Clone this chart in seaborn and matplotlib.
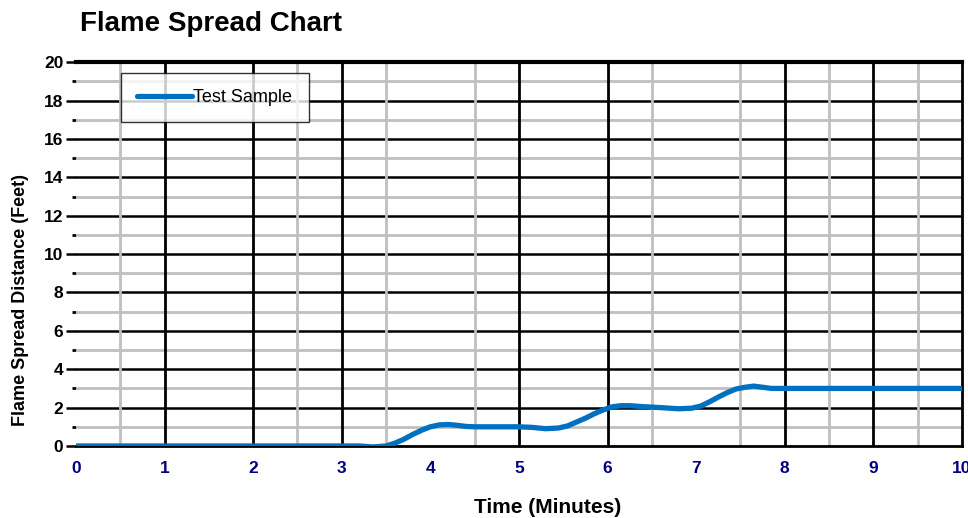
"""
Flame spread chart: distance of flame front over time for one test sample.
"""

import matplotlib
matplotlib.use("Agg")
import matplotlib.pyplot as plt
import seaborn as sns
import pandas as pd

# =========================
# Datos
# =========================

tiempo = [0, 0.5, 1, 1.5, 2, 2.5, 3, 3.2, 3.35, 3.5, 3.6, 3.7, 3.8, 3.9, 4.0,
          4.1, 4.2, 4.3, 4.4, 4.5, 4.75, 5.0, 5.15, 5.3, 5.45, 5.55, 5.65,
          5.75, 5.85, 5.95, 6.05, 6.15, 6.25, 6.4, 6.6, 6.8, 6.95, 7.05,
          7.15, 7.25, 7.35, 7.45, 7.55, 7.65, 7.75, 7.85, 8.0, 8.5, 9.0,
          9.5, 10.0]
distancia = [0, 0, 0, 0, 0, 0, 0, 0, -0.05, 0, 0.15, 0.35, 0.6, 0.82, 1.0,
             1.1, 1.12, 1.08, 1.02, 1.0, 1.0, 1.0, 0.97, 0.9, 0.94, 1.05, 1.25,
             1.45, 1.68, 1.88, 2.04, 2.1, 2.1, 2.05, 2.0, 1.94, 1.97, 2.08,
             2.3, 2.55, 2.78, 2.97, 3.06, 3.12, 3.06, 3.0, 3.0, 3.0, 3.0,
             3.0, 3.0]
serie = "Test Sample"

# líneas de la cuadrícula vertical tal como aparecen en la imagen
v_negras = [1, 2, 3, 5, 6, 8, 9]
v_grises = [0.5, 2.5, 3.5, 4.5, 6.5, 7.5, 8.5, 9.5]

df = pd.DataFrame({"tiempo": tiempo, "distancia": distancia, "serie": serie})

# =========================
# Figura
# =========================

sns.set_style("white")
plt.rcParams["font.family"] = ["Liberation Sans", "DejaVu Sans"]
plt.rcParams["text.color"] = "black"

fig = plt.figure(figsize=(9.68, 5.18), dpi=100)
ax = fig.add_axes([0.0785, 0.139, 0.9153, 0.741])

gris = "#BFBFBF"
for y in range(1, 20):
    if y % 2 == 0:
        ax.axhline(y, color="black", lw=1.8, zorder=1)
    else:
        ax.axhline(y, color=gris, lw=2.0, zorder=1)
for x in v_grises:
    ax.axvline(x, color=gris, lw=2.0, zorder=1)
for x in v_negras:
    ax.axvline(x, color="black", lw=2.0, zorder=1.5)

sns.lineplot(data=df, x="tiempo", y="distancia", hue="serie",
             palette=["#0070C0"], linewidth=3.8, ax=ax, zorder=3,
             estimator=None, sort=False)

ax.set_xlim(0, 10)
ax.set_ylim(0, 20)
ax.set_xticks(range(0, 11))
ax.set_yticks(range(0, 21, 2))
ax.set_yticks(range(1, 20, 2), minor=True)

ax.tick_params(axis="x", length=0, pad=11, labelsize=12.5, labelcolor="#000080")
ax.tick_params(axis="y", which="major", length=7, width=1.8, color="black",
               left=True, labelsize=12.5, pad=2, labelcolor="black")
ax.tick_params(axis="y", which="minor", length=3, width=2, color="black",
               left=True)
for lab in ax.get_xticklabels() + ax.get_yticklabels():
    lab.set_fontweight("bold")

ax.spines["left"].set_visible(False)
ax.spines["top"].set_linewidth(3)
ax.spines["right"].set_linewidth(2)
ax.spines["bottom"].set_linewidth(2)
for s in ["top", "right", "bottom"]:
    ax.spines[s].set_color("black")

ax.set_xlabel("")
ax.set_ylabel("")

leg = ax.legend(loc="upper left", bbox_to_anchor=(0.051, 0.972),
                borderaxespad=0, frameon=True, fancybox=False,
                fontsize=13, handlelength=3.0, handletextpad=0.1,
                borderpad=0.9)
leg.get_frame().set_edgecolor("black")
leg.get_frame().set_linewidth(1)
leg.set_zorder(5)

fig.text(0.083, 0.953, "Flame Spread Chart", fontsize=20, fontweight="bold",
         ha="left", va="center", color="black")
fig.text(0.566, 0.002, "Time (Minutes)", fontsize=15, fontweight="bold",
         ha="center", va="bottom", color="black")
fig.text(0.021, 0.42, "Flame Spread Distance (Feet)", fontsize=13,
         fontweight="bold", rotation=90, ha="center", va="center",
         color="black")

fig.savefig("out.png", dpi=100)
